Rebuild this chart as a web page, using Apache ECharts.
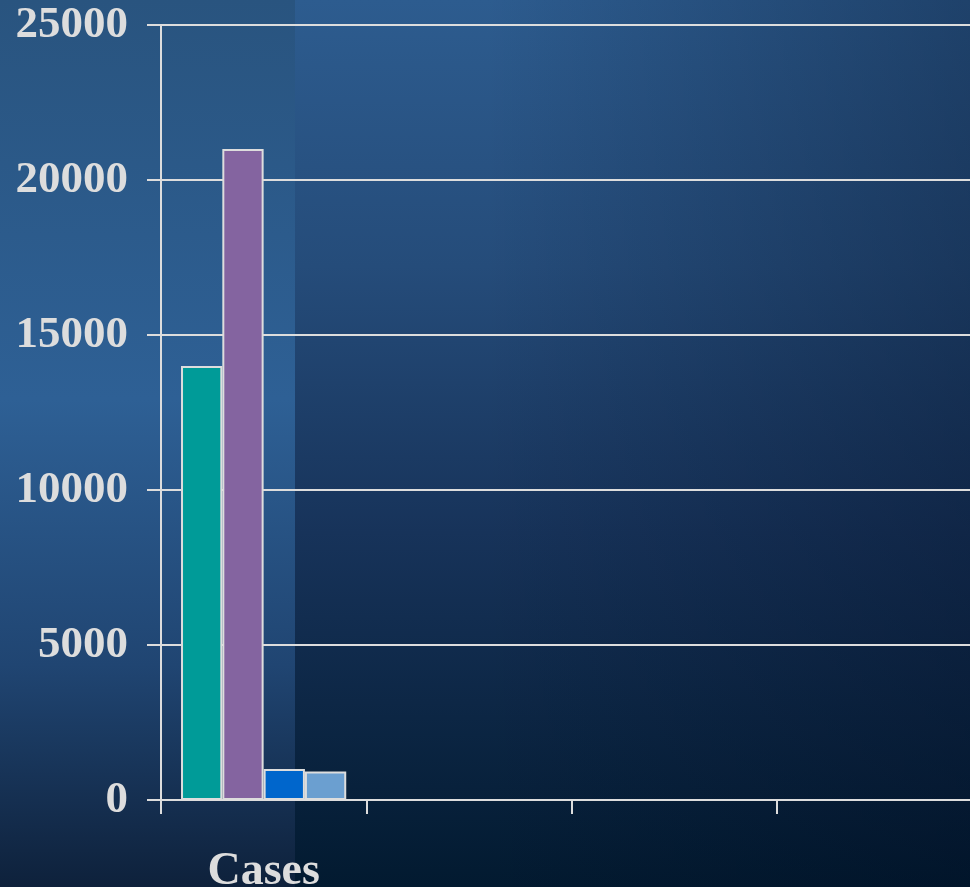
<!DOCTYPE html>
<html>
<head>
<meta charset="utf-8">
<style>
  html, body { margin: 0; padding: 0; background: #0a1f38; }
  #chart { width: 970px; height: 887px; }
</style>
<script src="https://cdn.jsdelivr.net/npm/echarts@6/dist/echarts.min.js"></script>
</head>
<body>
<div id="chart"></div>
<script>
// Categories along the x axis (only the first one carries data)
var categories = ['Cases', '', '', ''];

// One series per group, each value sits in the "Cases" slot
var seriesNames = ['Group A', 'Group B', 'Group C', 'Group D'];
var seriesColors = ['#009b98', '#8464a0', '#0066cc', '#6b9fd0'];
var groupA = [14000, null, null, null];
var groupB = [21000, null, null, null];
var groupC = [1000, null, null, null];
var groupD = [920, null, null, null];
var seriesValues = [groupA, groupB, groupC, groupD];

// Value axis range
var yMin = 0;
var yMax = 25000;
var yStep = 5000;

var textColor = '#dddddd';
var lineColor = '#dddddd';
var fontFamily = '"Liberation Serif", "Times New Roman", serif';

var chart = echarts.init(document.getElementById('chart'), null, { renderer: 'canvas' });

var series = seriesValues.map(function (vals, i) {
  return {
    name: seriesNames[i],
    type: 'bar',
    data: vals,
    barGap: '0%',
    barCategoryGap: '19.5%',
    itemStyle: {
      color: seriesColors[i],
      borderColor: lineColor,
      borderWidth: 2
    },
    z: 3
  };
});

chart.setOption({
  backgroundColor: '#0a1f38',
  animation: false,
  graphic: [
    {
      type: 'rect',
      z: -20,
      silent: true,
      shape: { x: 0, y: 0, width: 970, height: 887 },
      style: {
        fill: new echarts.graphic.LinearGradient(0, 0, 0, 1, [
          { offset: 0, color: '#2d5c8f' },
          { offset: 0.3, color: '#254c7a' },
          { offset: 0.6, color: '#17335a' },
          { offset: 1, color: '#021a30' }
        ])
      }
    },
    {
      type: 'rect',
      z: -19,
      silent: true,
      shape: { x: 0, y: 0, width: 970, height: 887 },
      style: {
        fill: new echarts.graphic.LinearGradient(0, 0, 1, 0, [
          { offset: 0, color: 'rgba(0,10,30,0)' },
          { offset: 0.5, color: 'rgba(0,10,30,0)' },
          { offset: 1, color: 'rgba(0,10,30,0.32)' }
        ])
      }
    },
    {
      type: 'rect',
      z: -18,
      silent: true,
      shape: { x: 0, y: 0, width: 295, height: 887 },
      style: {
        fill: new echarts.graphic.LinearGradient(0, 0, 0, 1, [
          { offset: 0, color: '#29547f' },
          { offset: 0.45, color: '#2e6095' },
          { offset: 0.75, color: '#204572' },
          { offset: 1, color: '#0e213b' }
        ])
      }
    }
  ],
  grid: {
    left: 161,
    top: 25,
    bottom: 87,
    width: 821,
    containLabel: false,
    outerBoundsMode: 'none'
  },
  xAxis: {
    type: 'category',
    data: categories,
    axisLine: { show: true, lineStyle: { color: lineColor, width: 2 } },
    axisTick: { show: true, length: 14, alignWithLabel: false, lineStyle: { color: lineColor, width: 2 } },
    axisLabel: {
      color: textColor,
      fontFamily: fontFamily,
      fontWeight: 'bold',
      fontSize: 46,
      margin: 49,
      interval: 0
    },
    splitLine: { show: false }
  },
  yAxis: {
    type: 'value',
    min: yMin,
    max: yMax,
    interval: yStep,
    axisLine: { show: true, lineStyle: { color: lineColor, width: 2 } },
    axisTick: { show: true, length: 14, lineStyle: { color: lineColor, width: 2 } },
    axisLabel: {
      color: textColor,
      fontFamily: fontFamily,
      fontWeight: 'bold',
      fontSize: 45,
      margin: 33,
      padding: [5, 0, 0, 0],
      formatter: function (v) { return String(v); }
    },
    splitLine: { show: true, lineStyle: { color: lineColor, width: 2 } }
  },
  series: series
});
</script>
</body>
</html>
